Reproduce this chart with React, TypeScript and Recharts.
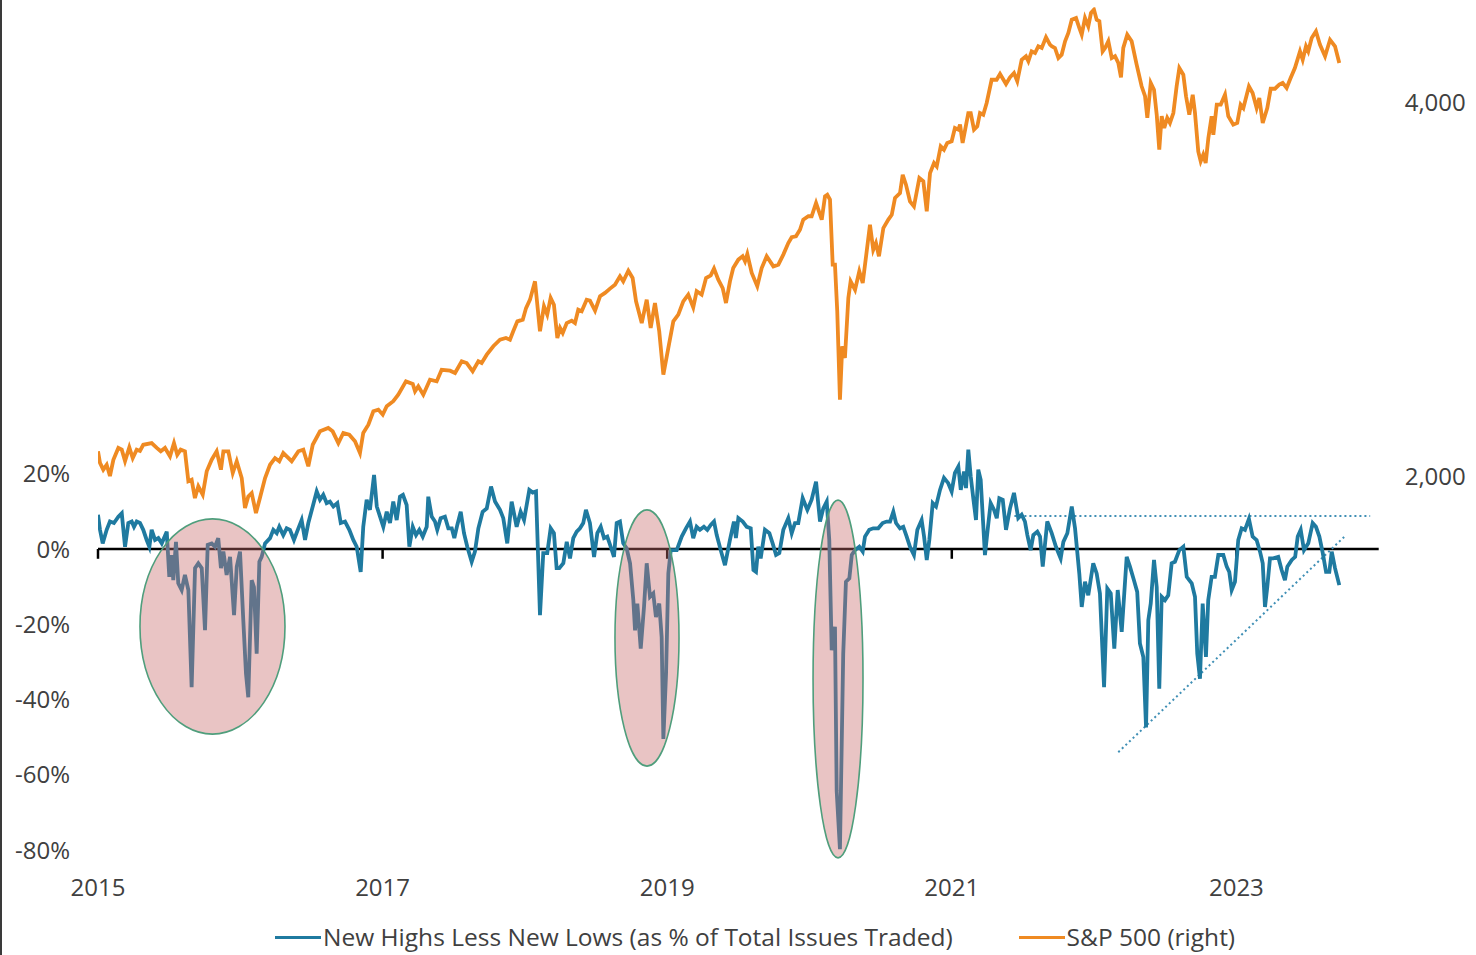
import React from "react";
import {
  LineChart,
  Line,
  XAxis,
  YAxis,
  ReferenceLine,
  ReferenceArea,
} from "recharts";

// S&P 500 weekly level (right axis), read off the picture
const spxYears = [
  2015.0, 2015.014, 2015.037, 2015.061, 2015.084, 2015.108, 2015.143, 2015.167, 2015.19, 2015.22,
  2015.244, 2015.272, 2015.295, 2015.318, 2015.377, 2015.413, 2015.441, 2015.471, 2015.506, 2015.534,
  2015.557, 2015.581, 2015.611, 2015.635, 2015.658, 2015.681, 2015.705, 2015.736, 2015.764, 2015.799,
  2015.834, 2015.864, 2015.881, 2015.916, 2015.947, 2015.975, 2016.01, 2016.033, 2016.056, 2016.08,
  2016.11, 2016.138, 2016.174, 2016.209, 2016.244, 2016.274, 2016.302, 2016.326, 2016.361, 2016.408,
  2016.443, 2016.478, 2016.509, 2016.56, 2016.618, 2016.649, 2016.689, 2016.724, 2016.766, 2016.806,
  2016.841, 2016.864, 2016.9, 2016.935, 2016.97, 2017.001, 2017.029, 2017.075, 2017.11, 2017.164,
  2017.212, 2017.228, 2017.251, 2017.286, 2017.333, 2017.38, 2017.415, 2017.474, 2017.509, 2017.556,
  2017.591, 2017.633, 2017.673, 2017.696, 2017.732, 2017.778, 2017.825, 2017.867, 2017.895, 2017.918,
  2017.947, 2017.985, 2018.008, 2018.036, 2018.071, 2018.106, 2018.134, 2018.157, 2018.181, 2018.204,
  2018.228, 2018.247, 2018.266, 2018.294, 2018.329, 2018.352, 2018.375, 2018.399, 2018.434, 2018.457,
  2018.493, 2018.528, 2018.563, 2018.598, 2018.633, 2018.668, 2018.691, 2018.727, 2018.757, 2018.781,
  2018.821, 2018.856, 2018.884, 2018.914, 2018.944, 2018.973, 2019.008, 2019.043, 2019.078, 2019.113,
  2019.148, 2019.183, 2019.207, 2019.242, 2019.273, 2019.306, 2019.329, 2019.359, 2019.39, 2019.413,
  2019.441, 2019.464, 2019.5, 2019.53, 2019.547, 2019.563, 2019.594, 2019.633, 2019.664, 2019.699,
  2019.746, 2019.781, 2019.816, 2019.851, 2019.875, 2019.905, 2019.933, 2019.956, 2019.992, 2020.015,
  2020.046, 2020.086, 2020.109, 2020.125, 2020.144, 2020.163, 2020.179, 2020.195, 2020.214, 2020.23,
  2020.249, 2020.273, 2020.289, 2020.32, 2020.35, 2020.374, 2020.402, 2020.425, 2020.448, 2020.467,
  2020.488, 2020.519, 2020.554, 2020.578, 2020.601, 2020.636, 2020.655, 2020.678, 2020.706, 2020.734,
  2020.772, 2020.8, 2020.824, 2020.847, 2020.875, 2020.894, 2020.922, 2020.945, 2020.968, 2020.999,
  2021.022, 2021.046, 2021.058, 2021.076, 2021.116, 2021.133, 2021.156, 2021.179, 2021.198, 2021.221,
  2021.245, 2021.28, 2021.315, 2021.339, 2021.381, 2021.409, 2021.437, 2021.46, 2021.491, 2021.521,
  2021.538, 2021.561, 2021.585, 2021.608, 2021.632, 2021.662, 2021.69, 2021.702, 2021.725, 2021.749,
  2021.772, 2021.796, 2021.819, 2021.843, 2021.873, 2021.896, 2021.913, 2021.936, 2021.959, 2021.978,
  2021.999, 2022.018, 2022.037, 2022.06, 2022.077, 2022.1, 2022.124, 2022.147, 2022.17, 2022.189,
  2022.205, 2022.233, 2022.264, 2022.299, 2022.334, 2022.358, 2022.374, 2022.398, 2022.421, 2022.44,
  2022.458, 2022.475, 2022.493, 2022.514, 2022.533, 2022.557, 2022.58, 2022.599, 2022.627, 2022.646,
  2022.669, 2022.693, 2022.709, 2022.732, 2022.749, 2022.767, 2022.784, 2022.803, 2022.826, 2022.838,
  2022.862, 2022.89, 2022.92, 2022.943, 2022.978, 2023.006, 2023.03, 2023.049, 2023.088, 2023.114,
  2023.142, 2023.161, 2023.185, 2023.217, 2023.241, 2023.271, 2023.301, 2023.325, 2023.353, 2023.381,
  2023.411, 2023.447, 2023.466, 2023.489, 2023.505, 2023.529, 2023.559, 2023.587, 2023.623, 2023.658,
  2023.693, 2023.723,
];
const spxLevels = [
  2132, 2070, 2034, 2060, 2000, 2087, 2150, 2141, 2080, 2153,
  2096, 2141, 2134, 2167, 2176, 2150, 2132, 2150, 2105, 2176,
  2114, 2141, 2132, 1972, 1980, 1882, 1945, 1900, 2025, 2087,
  2132, 2034, 2132, 2132, 2016, 2079, 1989, 1829, 1891, 1909,
  1802, 1882, 1989, 2060, 2096, 2079, 2123, 2105, 2079, 2132,
  2141, 2052, 2167, 2239, 2257, 2239, 2176, 2230, 2221, 2186,
  2123, 2230, 2274, 2346, 2355, 2328, 2373, 2400, 2435, 2506,
  2492, 2453, 2480, 2435, 2515, 2506, 2568, 2563, 2551, 2613,
  2604, 2560, 2613, 2604, 2649, 2694, 2729, 2738, 2729, 2774,
  2827, 2836, 2898, 2943, 3041, 2774, 2908, 2863, 2952, 2916,
  2738, 2792, 2765, 2818, 2831, 2818, 2889, 2881, 2943, 2938,
  2884, 2961, 2979, 3002, 3023, 3068, 3041, 3098, 3059, 2934,
  2818, 2943, 2792, 2925, 2774, 2542, 2685, 2827, 2863, 2934,
  2970, 2902, 2988, 2970, 3059, 3073, 3109, 3050, 3005, 2925,
  3041, 3112, 3157, 3175, 3148, 3187, 3086, 3015, 3112, 3175,
  3121, 3130, 3184, 3246, 3277, 3282, 3317, 3371, 3389, 3389,
  3460, 3371, 3496, 3504, 3478, 3130, 3130, 2881, 2408, 2694,
  2631, 2952, 3041, 2996, 3095, 3032, 3202, 3344, 3210, 3246,
  3175, 3326, 3371, 3397, 3487, 3513, 3611, 3558, 3469, 3442,
  3594, 3576, 3416, 3620, 3674, 3656, 3763, 3745, 3781, 3790,
  3861, 3852, 3879, 3781, 3941, 3941, 3852, 3870, 3941, 3932,
  3995, 4119, 4119, 4150, 4096, 4132, 4155, 4111, 4226, 4245,
  4218, 4271, 4262, 4298, 4289, 4346, 4307, 4298, 4289, 4235,
  4253, 4325, 4369, 4440, 4449, 4396, 4360, 4449, 4405, 4476,
  4494, 4440, 4432, 4271, 4289, 4325, 4235, 4245, 4209, 4132,
  4289, 4360, 4325, 4200, 4084, 4031, 3915, 4102, 4066, 3932,
  3745, 3924, 3861, 3915, 3888, 3941, 4084, 4182, 4146, 4031,
  3932, 4039, 3941, 3736, 3683, 3718, 3674, 3808, 3924, 3825,
  3986, 3986, 4039, 3924, 3879, 3888, 3986, 3968, 4084, 4048,
  3968, 4022, 3888, 3968, 4071, 4071, 4093, 4102, 4075, 4128,
  4182, 4271, 4226, 4298, 4271, 4342, 4378, 4307, 4245, 4333,
  4298, 4209,
];

// New highs less new lows, % of issues traded (left axis)
const nhnlYears = [
  2015.0, 2015.014, 2015.033, 2015.061, 2015.084, 2015.112, 2015.143, 2015.167, 2015.19, 2015.213,
  2015.237, 2015.253, 2015.272, 2015.295, 2015.318, 2015.342, 2015.361, 2015.377, 2015.401, 2015.424,
  2015.448, 2015.483, 2015.501, 2015.518, 2015.529, 2015.548, 2015.564, 2015.588, 2015.611, 2015.635,
  2015.658, 2015.682, 2015.705, 2015.729, 2015.752, 2015.771, 2015.799, 2015.822, 2015.845, 2015.864,
  2015.881, 2015.904, 2015.928, 2015.956, 2015.975, 2015.998, 2016.021, 2016.04, 2016.056, 2016.08,
  2016.096, 2016.115, 2016.134, 2016.15, 2016.174, 2016.209, 2016.232, 2016.256, 2016.274, 2016.302,
  2016.326, 2016.349, 2016.377, 2016.408, 2016.431, 2016.455, 2016.478, 2016.509, 2016.537, 2016.56,
  2016.583, 2016.607, 2016.63, 2016.654, 2016.682, 2016.706, 2016.736, 2016.766, 2016.794, 2016.818,
  2016.846, 2016.864, 2016.888, 2016.911, 2016.94, 2016.959, 2016.982, 2017.005, 2017.029, 2017.052,
  2017.075, 2017.099, 2017.122, 2017.143, 2017.169, 2017.188, 2017.212, 2017.235, 2017.258, 2017.282,
  2017.31, 2017.321, 2017.345, 2017.368, 2017.384, 2017.408, 2017.438, 2017.462, 2017.486, 2017.504,
  2017.525, 2017.549, 2017.572, 2017.595, 2017.626, 2017.649, 2017.673, 2017.703, 2017.732, 2017.762,
  2017.79, 2017.825, 2017.848, 2017.876, 2017.907, 2017.942, 2017.97, 2017.994, 2018.031, 2018.055,
  2018.078, 2018.106, 2018.129, 2018.157, 2018.181, 2018.204, 2018.223, 2018.242, 2018.27, 2018.294,
  2018.317, 2018.34, 2018.364, 2018.387, 2018.41, 2018.429, 2018.457, 2018.486, 2018.509, 2018.533,
  2018.556, 2018.579, 2018.603, 2018.626, 2018.645, 2018.668, 2018.691, 2018.715, 2018.739, 2018.762,
  2018.774, 2018.79, 2018.814, 2018.837, 2018.856, 2018.879, 2018.902, 2018.921, 2018.944, 2018.961,
  2018.973, 2018.992, 2019.008, 2019.025, 2019.067, 2019.102, 2019.132, 2019.16, 2019.183, 2019.207,
  2019.23, 2019.258, 2019.282, 2019.306, 2019.329, 2019.348, 2019.376, 2019.406, 2019.441, 2019.469,
  2019.483, 2019.5, 2019.531, 2019.559, 2019.587, 2019.606, 2019.624, 2019.64, 2019.657, 2019.687,
  2019.718, 2019.741, 2019.765, 2019.788, 2019.816, 2019.851, 2019.875, 2019.898, 2019.921, 2019.952,
  2019.985, 2020.015, 2020.046, 2020.074, 2020.097, 2020.121, 2020.139, 2020.156, 2020.179, 2020.191,
  2020.214, 2020.237, 2020.256, 2020.28, 2020.297, 2020.32, 2020.35, 2020.374, 2020.39, 2020.42,
  2020.448, 2020.483, 2020.514, 2020.542, 2020.566, 2020.589, 2020.608, 2020.636, 2020.659, 2020.683,
  2020.706, 2020.734, 2020.758, 2020.788, 2020.805, 2020.824, 2020.842, 2020.866, 2020.889, 2020.917,
  2020.945, 2020.975, 2020.999, 2021.022, 2021.046, 2021.063, 2021.086, 2021.1, 2021.116, 2021.133,
  2021.151, 2021.17, 2021.186, 2021.203, 2021.221, 2021.233, 2021.252, 2021.273, 2021.297, 2021.316,
  2021.334, 2021.358, 2021.381, 2021.409, 2021.437, 2021.467, 2021.491, 2021.514, 2021.531, 2021.554,
  2021.573, 2021.601, 2021.62, 2021.639, 2021.671, 2021.702, 2021.732, 2021.765, 2021.784, 2021.812,
  2021.843, 2021.866, 2021.896, 2021.913, 2021.936, 2021.959, 2021.994, 2022.018, 2022.041, 2022.07,
  2022.093, 2022.117, 2022.142, 2022.166, 2022.194, 2022.229, 2022.252, 2022.28, 2022.303, 2022.322,
  2022.346, 2022.365, 2022.381, 2022.398, 2022.421, 2022.44, 2022.458, 2022.475, 2022.498, 2022.521,
  2022.545, 2022.568, 2022.599, 2022.627, 2022.651, 2022.686, 2022.709, 2022.725, 2022.744, 2022.763,
  2022.786, 2022.802, 2022.826, 2022.849, 2022.873, 2022.908, 2022.932, 2022.95, 2022.967, 2022.99,
  2023.013, 2023.037, 2023.06, 2023.088, 2023.114, 2023.142, 2023.166, 2023.185, 2023.201, 2023.217,
  2023.236, 2023.259, 2023.294, 2023.318, 2023.341, 2023.358, 2023.389, 2023.413, 2023.431, 2023.452,
  2023.475, 2023.505, 2023.536, 2023.559, 2023.583, 2023.607, 2023.63, 2023.653, 2023.67, 2023.693,
  2023.723,
];
const nhnlPct = [
  9.1, 5.1, 1.5, 5.1, 7.3, 6.9, 8.6, 9.5, 0.6, 6.9,
  7.3, 5.9, 7.3, 6.9, 5.1, 2.4, 0.6, 5.1, 2.4, 2.9,
  1.5, 4.6, -7.4, -1.6, -8.3, 1.9, -9.1, -10.9, -6.9, -10.9,
  -36.7, -5.1, -3.8, -5.1, -21.6, 1.1, 1.5, 0.6, 2.9, -5.1,
  -0.7, -6.9, -2.1, -17.6, -4.7, -0.7, -18.9, -33.1, -39.4, -8.3,
  -10.1, -27.8, -3.4, -2.1, 1.5, 2.9, 5.1, 4.2, 5.9, 3.7,
  5.5, 5.1, 2.4, 5.5, 7.7, 2.4, 6.9, 11.3, 15.3, 13.1,
  14.4, 12.2, 12.6, 11.3, 12.2, 6.9, 7.3, 5.1, 2.4, 0.6,
  -6.1, 5.9, 13.1, 10.4, 19.7, 11.3, 8.6, 5.9, 9.9, 6.9,
  12.6, 7.7, 13.9, 14.4, 11.7, 0.6, 5.9, 3.7, 5.1, 3.3,
  5.9, 13.9, 8.6, 7.3, 5.1, 8.2, 8.6, 5.5, 5.5, 2.9,
  6.4, 9.9, 4.2, 0.6, -3.4, -0.7, 5.5, 9.9, 10.8, 16.6,
  12.6, 10.4, 8.2, 1.5, 12.6, 5.9, 9.9, 7.7, 15.7, 15.0,
  15.3, -17.6, -1.1, -1.1, 5.5, 4.2, -5.1, -5.1, -3.8, 1.9,
  -2.5, 2.9, 4.6, 5.5, 6.9, 10.4, 6.9, -2.1, 4.2, 5.9,
  2.9, 3.3, 0.6, -2.1, 6.9, 7.3, 1.5, 0.2, -3.8, -13.6,
  -21.6, -14.5, -26.5, -15.4, -3.8, -12.7, -11.8, -18.1, -14.5, -23.4,
  -50.5, -33.1, -6.5, -0.3, -0.3, 3.3, 5.5, 7.3, 2.9, 5.9,
  5.1, 5.9, 5.1, 6.4, 7.3, 3.7, -0.3, -4.3, 2.4, 7.3,
  2.9, 8.2, 7.3, 5.9, 5.5, -5.6, -6.1, 0.6, -2.5, 5.1,
  4.2, 1.5, -1.6, -1.1, 5.1, 8.2, 4.2, 6.9, 6.9, 13.5,
  10.4, 13.1, 17.9, 7.3, 10.8, 12.6, 2.4, -26.9, -20.7, -64.3,
  -79.8, -27.8, -8.7, -7.8, -1.6, -0.3, 0.6, -0.7, 3.3, 5.1,
  5.5, 5.5, 6.9, 7.3, 7.3, 9.9, 6.9, 5.5, 5.9, 3.3,
  0.6, -1.6, 5.1, 7.7, 3.3, -2.9, 2.4, 12.2, 11.3, 15.7,
  18.9, 17.5, 15.3, 20.2, 21.9, 15.7, 20.6, 16.2, 26.4, 19.3,
  13.5, 7.7, 21.1, 18.4, 6.4, -1.6, 5.1, 12.2, 10.4, 8.2,
  13.5, 13.1, 5.1, 10.8, 14.9, 8.2, 9.1, 7.3, 3.7, -0.3,
  3.7, 4.6, 3.3, -4.7, 7.3, 4.2, 0.6, -2.5, 1.9, 4.2,
  11.3, 5.5, -6.5, -15.4, -8.7, -12.3, -3.8, -6.5, -11.8, -36.7,
  -10.5, -11.8, -26.5, -10.9, -22.0, -2.1, -4.7, -8.3, -11.4, -25.1,
  -28.7, -47.4, -18.9, -14.5, -2.9, -10.1, -37.1, -12.7, -13.6, -12.3,
  -3.8, -3.4, -0.3, 0.6, -7.4, -9.1, -12.7, -27.8, -34.5, -14.5,
  -28.7, -13.6, -7.4, -7.4, -1.6, -1.6, -4.7, -6.1, -10.9, -8.7,
  2.4, 5.5, 5.1, 8.0, 3.3, 2.4, -0.7, -3.8, -15.4, -10.1,
  -2.5, -2.5, -2.1, -5.6, -8.3, -4.7, -2.9, -2.1, 3.3, 5.1,
  -0.3, 1.5, 6.9, 5.9, 3.3, -1.1, -6.1, -6.1, -0.7, -5.1,
  -9.6,
];

const yearTicks = [2015, 2017, 2019, 2021, 2023];
const leftTicks = [-80, -60, -40, -20, 0, 20];
const rightTicks = [2000, 4000];

// highlighted drawdown episodes: [x1, x2, top %, bottom %]
const episodes = [
  [2015.295, 2016.314, 8.0, -49.2],
  [2018.633, 2019.083, 10.4, -57.7],
  [2020.025, 2020.376, 13.0, -82.1],
];

const spxData = spxYears.map((t, i) => ({ t, v: spxLevels[i] }));
const nhnlData = nhnlYears.map((t, i) => ({ t, v: nhnlPct[i] }));

const BLUE = "#1f7aa0";
const ORANGE = "#ef8a22";
const TEXT = "#404040";
const FONT = "'Open Sans', sans-serif";

const W = 1476;
const H = 955;
const X_DOMAIN = [2015, 2024];
const LEFT_DOMAIN = [-80, 144];

const Ellipse = (p: any) => {
  const x = Math.min(p.x, p.x + p.width);
  const y = Math.min(p.y, p.y + p.height);
  const w = Math.abs(p.width);
  const h = Math.abs(p.height);
  return (
    <ellipse
      cx={x + w / 2}
      cy={y + h / 2}
      rx={w / 2}
      ry={h / 2}
      fill="#c86c6c"
      fillOpacity={0.4}
      stroke="#4f9e7c"
      strokeWidth={1.6}
    />
  );
};

const LegendItem = ({ color, label }: { color: string; label: string }) => (
  <span style={{ display: "inline-flex", alignItems: "center" }}>
    <span
      style={{
        display: "inline-block",
        width: 46,
        height: 3,
        background: color,
        marginRight: 2,
      }}
    />
    <span>{label}</span>
  </span>
);

export default function App() {
  return (
    <div
      style={{
        position: "absolute",
        left: 0,
        top: 0,
        width: W,
        height: H,
        background: "#fff",
        fontFamily: FONT,
      }}
    >
      <div
        style={{
          position: "absolute",
          left: 0,
          top: 0,
          width: 2,
          height: H,
          background: "#3a3a3a",
        }}
      />
      <div style={{ position: "absolute", left: 0, top: 0 }}>
        <LineChart
          width={W}
          height={H}
          margin={{ top: 7.2, right: 0, bottom: 45, left: 0 }}
          style={{ fontFamily: FONT }}
        >
          <XAxis
            dataKey="t"
            type="number"
            domain={X_DOMAIN}
            ticks={yearTicks}
            allowDataOverflow
            axisLine={false}
            tickLine={false}
            tickSize={0}
            tickMargin={29}
            height={60}
            tick={{ fill: TEXT, fontSize: 24 }}
          />
          <YAxis
            yAxisId="left"
            orientation="left"
            domain={LEFT_DOMAIN}
            ticks={leftTicks}
            allowDataOverflow
            width={98}
            axisLine={false}
            tickLine={false}
            tickSize={0}
            tickMargin={28}
            tickFormatter={(v) => `${v}%`}
            tick={{ fill: TEXT, fontSize: 24 }}
          />
          <YAxis
            yAxisId="right"
            orientation="right"
            domain={[0, 4507]}
            ticks={rightTicks}
            allowDataOverflow
            width={97.3}
            axisLine={false}
            tickLine={false}
            tickSize={0}
            tickMargin={26}
            tickFormatter={(v) => v.toLocaleString("en-US")}
            tick={{ fill: TEXT, fontSize: 24, textAnchor: "start" }}
          />
          <ReferenceLine yAxisId="left" y={0} stroke="#000" strokeWidth={2.5} />
          {yearTicks.map((yr) => (
            <ReferenceLine
              key={yr}
              yAxisId="left"
              segment={[
                { x: yr, y: 0 },
                { x: yr, y: -2.6 },
              ]}
              stroke="#000"
              strokeWidth={2.5}
            />
          ))}
          <ReferenceLine
            yAxisId="left"
            segment={[
              { x: 2021.44, y: 8.8 },
              { x: 2023.94, y: 8.8 },
            ]}
            stroke="#3f8fb5"
            strokeWidth={2}
            strokeDasharray="2 3"
          />
          <ReferenceLine
            yAxisId="left"
            segment={[
              { x: 2022.17, y: -54 },
              { x: 2023.76, y: 3.3 },
            ]}
            stroke="#3f8fb5"
            strokeWidth={2}
            strokeDasharray="2 3"
          />
          <Line
            yAxisId="right"
            data={spxData}
            dataKey="v"
            stroke={ORANGE}
            strokeWidth={3.8}
            dot={false}
            isAnimationActive={false}
          />
          <Line
            yAxisId="left"
            data={nhnlData}
            dataKey="v"
            stroke={BLUE}
            strokeWidth={3.8}
            dot={false}
            isAnimationActive={false}
          />
        </LineChart>
      </div>
      {/* translucent ellipses sit on top of the lines, same plot area */}
      <div
        style={{
          position: "absolute",
          left: 0,
          top: 0,
          pointerEvents: "none",
        }}
      >
        <LineChart
          width={W}
          height={H}
          data={nhnlData}
          margin={{ top: 7.2, right: 97.3, bottom: 105, left: 98 }}
        >
          <XAxis
            dataKey="t"
            type="number"
            domain={X_DOMAIN}
            allowDataOverflow
            hide
          />
          <YAxis
            yAxisId="left"
            domain={LEFT_DOMAIN}
            allowDataOverflow
            hide
          />
          {episodes.map(([x1, x2, y1, y2], i) => (
            <ReferenceArea
              key={i}
              yAxisId="left"
              x1={x1}
              x2={x2}
              y1={y1}
              y2={y2}
              ifOverflow="visible"
              shape={Ellipse}
            />
          ))}
        </LineChart>
      </div>
      <div
        style={{
          position: "absolute",
          top: 920,
          left: 275,
          display: "flex",
          gap: 66,
          fontSize: 24.5,
          color: TEXT,
          lineHeight: "34px",
          whiteSpace: "nowrap",
        }}
      >
        <LegendItem
          color={BLUE}
          label="New Highs Less New Lows (as % of Total Issues Traded)"
        />
        <LegendItem color={ORANGE} label="S&P 500 (right)" />
      </div>
    </div>
  );
}
